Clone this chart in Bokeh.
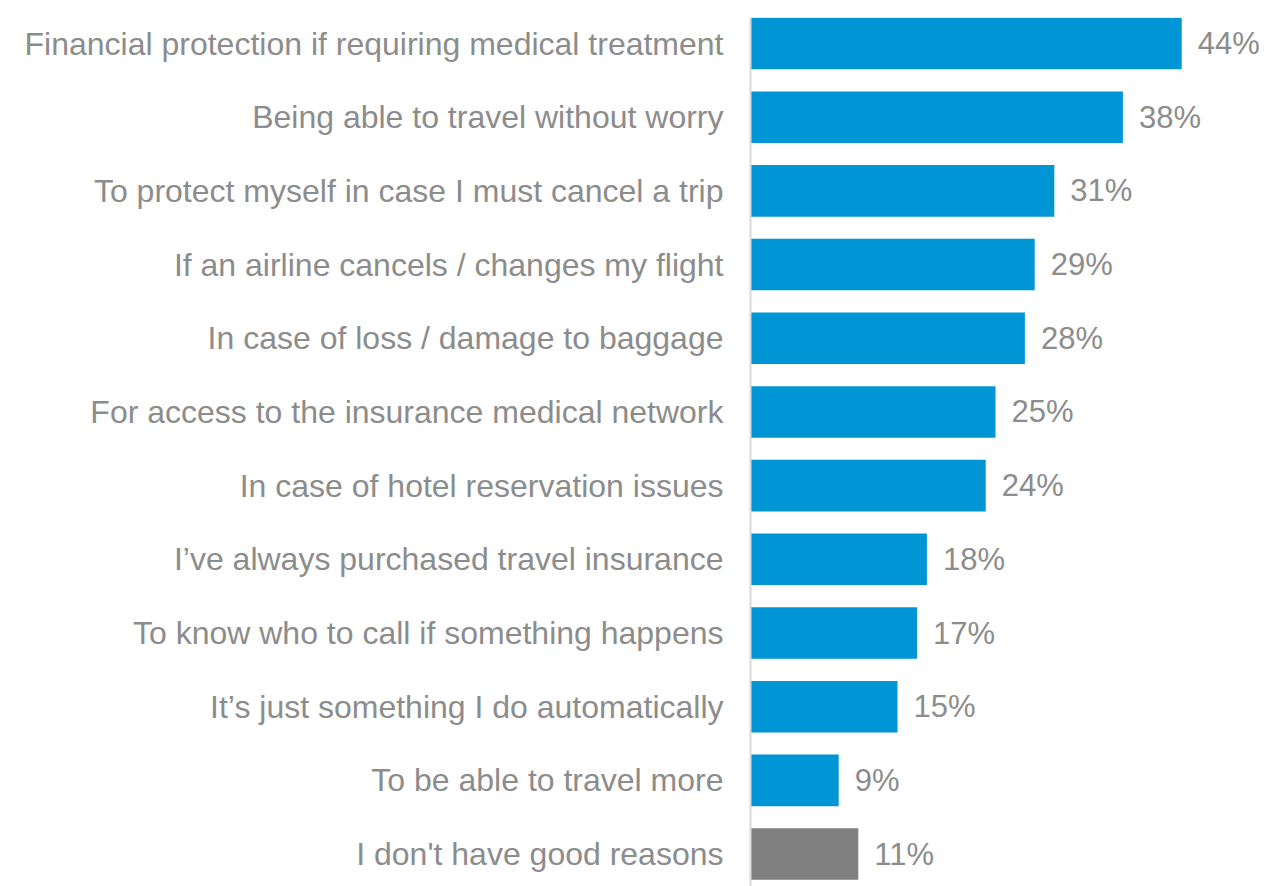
from bokeh.plotting import figure
from bokeh.models import Range1d, FixedTicker, ColumnDataSource
from bokeh.core.properties import value
from bokeh.embed import file_html
from bokeh.resources import INLINE

categories = [
    "Financial protection if requiring medical treatment",
    "Being able to travel without worry",
    "To protect myself in case I must cancel a trip",
    "If an airline cancels / changes my flight",
    "In case of loss / damage to baggage",
    "For access to the insurance medical network",
    "In case of hotel reservation issues",
    "I\u2019ve always purchased travel insurance",
    "To know who to call if something happens",
    "It\u2019s just something I do automatically",
    "To be able to travel more",
    "I don't have good reasons",
]
values = [44, 38, 31, 29, 28, 25, 24, 18, 17, 15, 9, 11]
colors = ["#0096D6"] * 11 + ["#808080"]
labels = [f"{v}%" for v in values]

FONT = "Liberation Sans"
GRAY = "#8c8c8c"

pos = list(range(len(categories)))
src = ColumnDataSource(dict(y=pos, v=values, c=colors, lab=labels))

p = figure(width=1265, height=886, output_backend="svg", toolbar_location=None,
           x_range=Range1d(0, 52.55), y_range=Range1d(11.44, -0.353),
           x_axis_location=None, min_border_left=750, min_border_right=0,
           min_border_top=17, min_border_bottom=0)
p.outline_line_color = None
p.grid.visible = False
p.background_fill_color = "white"

p.hbar(y="y", right="v", left=0, height=0.70, fill_color="c", line_color=None, source=src)
p.text(x="v", y="y", text="lab", source=src, x_offset=16, text_baseline="middle",
       text_align="left", text_font=value(FONT), text_font_size="31px", text_color=GRAY)

ax = p.yaxis[0]
ax.ticker = FixedTicker(ticks=pos)
ax.major_label_overrides = {i: c for i, c in zip(pos, categories)}
ax.major_tick_line_color = None
ax.minor_tick_line_color = None
ax.major_tick_out = 0
ax.major_tick_in = 0
ax.axis_line_color = "#d9d9d9"
ax.axis_line_width = 2
ax.major_label_standoff = 27
ax.major_label_text_font = FONT
ax.major_label_text_font_size = "32px"
ax.major_label_text_color = GRAY

open("out.html", "w").write(file_html(p, INLINE))
